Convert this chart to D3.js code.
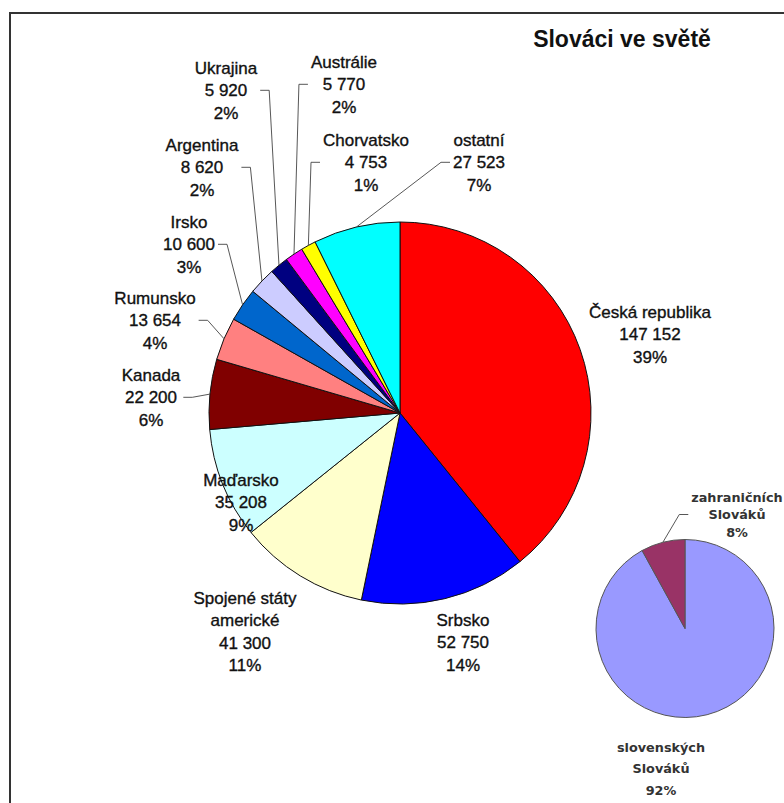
<!DOCTYPE html>
<html>
<head>
<meta charset="utf-8">
<script src="https://cdn.jsdelivr.net/npm/d3@7"></script>
<style>
  html, body { margin: 0; padding: 0; background: #fff; }
  svg { display: block; }
</style>
</head>
<body>
<script>
// ---- data ----
const title = "Slováci ve světě";
const categories = ["Česká republika", "Srbsko", "Spojené státy\namerické", "Maďarsko", "Kanada",
  "Rumunsko", "Irsko", "Argentina", "Ukrajina", "Austrálie", "Chorvatsko", "ostatní"];
const values = [147152, 52750, 41300, 35208, 22200, 13654, 10600, 8620, 5920, 5770, 4753, 27523];
const colors = ["#FF0000", "#0000FF", "#FFFFCC", "#CCFFFF", "#800000", "#FF8080",
  "#0066CC", "#CCCCFF", "#000080", "#FF00FF", "#FFFF00", "#00FFFF"];

const smallCategories = ["slovenských\nSlováků", "zahraničních\nSlováků"];
const smallValues = [92, 8];
const smallColors = ["#9999FF", "#993366"];

// ---- layout (label anchors: centre x, first-line centre y) ----
const labelLayout = [
  { x: 650, y: 312, leader: false },
  { x: 463, y: 620, leader: false },
  { x: 245, y: 598, leader: false },
  { x: 241, y: 480, leader: false },
  { x: 151, y: 375, leader: true, side: "right" },
  { x: 155, y: 298, leader: true, side: "right" },
  { x: 189, y: 222, leader: true, side: "right" },
  { x: 202, y: 145, leader: true, side: "right" },
  { x: 226, y: 68, leader: true, side: "right" },
  { x: 344, y: 62, leader: true, side: "left" },
  { x: 366, y: 140, leader: true, side: "left" },
  { x: 479, y: 140, leader: true, side: "left" }
];
const smallLayout = [
  { x: 661, y: 747, lh: 21.5, leader: false },
  { x: 737, y: 497, lh: 17.5, leader: true, side: "left" }
];

const W = 784, H = 803;
const svg = d3.select("body").append("svg").attr("width", W).attr("height", H);
svg.append("rect").attr("width", W).attr("height", H).attr("fill", "#fff");

// frame
svg.append("path").attr("d", `M10,${H + 5} V13 H${W + 5}`)
  .attr("fill", "none").attr("stroke", "#333").attr("stroke-width", 2);

// title
svg.append("text").attr("x", 622).attr("y", 47).attr("text-anchor", "middle")
  .attr("font-family", "Liberation Sans, Arial, sans-serif").attr("font-weight", "bold")
  .attr("font-size", 23).attr("fill", "#111").text(title);

const locale = d3.formatLocale({ decimal: ",", thousands: "\u00a0", grouping: [3], currency: ["", ""] });
const fmt = locale.format(",d");

function drawPie(opts) {
  const { cx, cy, r, vals, cols, cats, layout, font, weight, size, lh0, showValue, textFill, textStroke, stroke } = opts;
  const total = d3.sum(vals);
  const pie = d3.pie().sort(null).value(d => d)(vals);
  const arc = d3.arc().innerRadius(0).outerRadius(r);
  const g = svg.append("g").attr("transform", `translate(${cx},${cy})`);
  g.selectAll("path").data(pie).join("path")
    .attr("d", arc).attr("fill", (d, i) => cols[i])
    .attr("stroke", stroke).attr("stroke-width", 1).attr("stroke-linejoin", "round");

  pie.forEach((d, i) => {
    const L = layout[i];
    const lh = L.lh || lh0;
    const lines = cats[i].split("\n");
    const valueLineIdx = lines.length;
    if (showValue) lines.push(fmt(vals[i]));
    lines.push(Math.round(vals[i] / total * 100) + "%");
    const t = svg.append("text").attr("text-anchor", "middle")
      .attr("font-family", font).attr("font-weight", weight)
      .attr("font-size", size).attr("fill", textFill)
      .attr("stroke", textFill).attr("stroke-width", textStroke);
    const capOff = size * 0.36;
    lines.forEach((s, k) => {
      t.append("tspan").attr("x", L.x).attr("y", L.y + k * lh + capOff).text(s);
    });
    if (L.leader) {
      let maxW = 0;
      t.selectAll("tspan").each(function () { maxW = Math.max(maxW, this.getComputedTextLength()); });
      const attachIdx = showValue ? valueLineIdx : lines.length - 2;
      const ly = L.y + attachIdx * lh;
      const ex = L.side === "right" ? L.x + maxW / 2 + 3 : L.x - maxW / 2 - 3;
      const elbowX = L.side === "right" ? ex + 9 : ex - 9;
      const mid = (d.startAngle + d.endAngle) / 2;
      const px = cx + Math.sin(mid) * r, py = cy - Math.cos(mid) * r;
      svg.append("path")
        .attr("d", `M${ex},${ly} L${elbowX},${ly} L${px},${py}`)
        .attr("fill", "none").attr("stroke", "#444").attr("stroke-width", 0.9);
    }
  });
}

drawPie({
  cx: 400, cy: 413, r: 191, vals: values, cols: colors, cats: categories, layout: labelLayout,
  font: "Liberation Sans, Arial, sans-serif", weight: "normal", size: 17, lh0: 22.3,
  showValue: true, textFill: "#111", textStroke: 0.35, stroke: "#111"
});

drawPie({
  cx: 685, cy: 628.5, r: 89, vals: smallValues, cols: smallColors, cats: smallCategories, layout: smallLayout,
  font: "DejaVu Sans, Verdana, sans-serif", weight: "bold", size: 12.8, lh0: 19,
  showValue: false, textFill: "#333", textStroke: 0, stroke: "#555"
});
</script>
</body>
</html>
